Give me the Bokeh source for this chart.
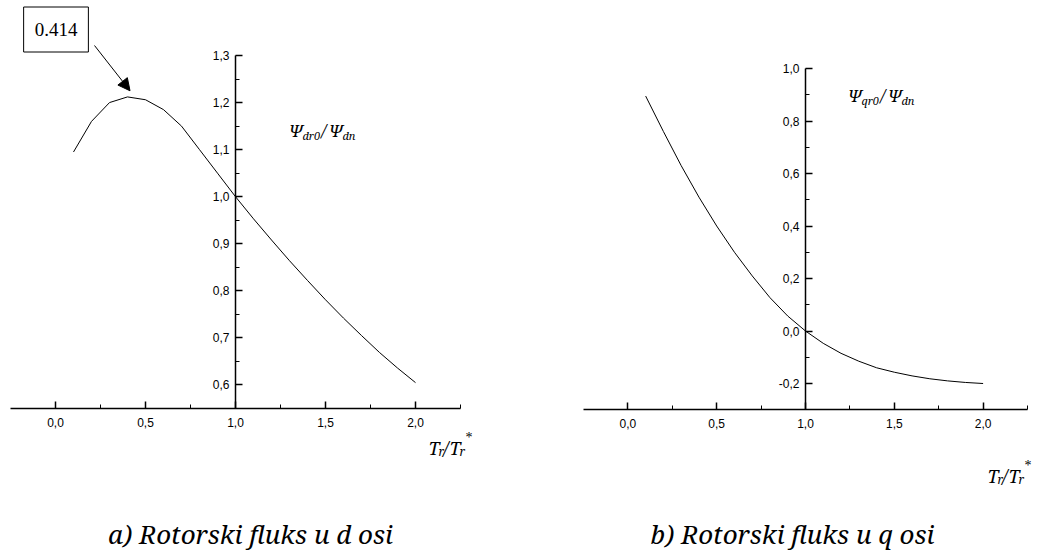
from bokeh.plotting import figure
from bokeh.models import LinearAxis, FixedTicker, CustomJSTickFormatter, Label, Arrow, NormalHead, Range1d
from bokeh.layouts import row
from bokeh.embed import file_html
from bokeh.resources import INLINE

# ---------------- data ----------------
x_d = [0.1, 0.2, 0.3, 0.4, 0.5, 0.6, 0.7, 0.8, 0.9, 1.0,
       1.1, 1.2, 1.3, 1.4, 1.5, 1.6, 1.7, 1.8, 1.9, 2.0]
psi_dr0 = [1.095, 1.160, 1.200, 1.212, 1.206, 1.185, 1.150, 1.100, 1.050, 1.000,
           0.953, 0.908, 0.864, 0.822, 0.781, 0.742, 0.705, 0.669, 0.636, 0.605]
x_q = [0.1, 0.2, 0.3, 0.4, 0.5, 0.6, 0.7, 0.8, 0.9, 1.0,
       1.1, 1.2, 1.3, 1.4, 1.5, 1.6, 1.7, 1.8, 1.9, 2.0]
psi_qr0 = [0.895, 0.760, 0.630, 0.510, 0.400, 0.300, 0.210, 0.127, 0.057, 0.000,
           -0.047, -0.085, -0.115, -0.140, -0.157, -0.171, -0.182, -0.190, -0.196, -0.200]

x_major = [0.0, 0.5, 1.0, 1.5, 2.0]
x_minor = [0.25, 0.75, 1.25, 1.75, 2.25]
yd_major = [0.6, 0.7, 0.8, 0.9, 1.0, 1.1, 1.2, 1.3]
yd_minor = [0.65, 0.75, 0.85, 0.95, 1.05, 1.15, 1.25]
yq_major = [-0.2, 0.0, 0.2, 0.4, 0.6, 0.8, 1.0]
yq_minor = [-0.1, 0.1, 0.3, 0.5, 0.7, 0.9]

peak_x = 0.414
peak_text = "0.414"
caption_a = "a) Rotorski fluks u d osi"
caption_b = "b) Rotorski fluks u q osi"

SERIF = "Liberation Serif"
SERIF_IT = "Noto Serif"
SANS = "Liberation Sans"

H = 550


def make_map(x0, px0, x1, px1, y0, py0, y1, py1, FL, FR, FT, FB):
    sx = (px1 - px0) / (x1 - x0)
    sy = (py1 - py0) / (y1 - y0)
    xr = Range1d(x0 - (px0 - FL) / sx, x0 + (FR - px0) / sx)
    yr = Range1d(y0 + (FB - py0) / sy, y0 + (FT - py0) / sy)

    def to_data(px, py):
        return x0 + (px - px0) / sx, y0 + (py - py0) / sy
    return xr, yr, to_data


fmt = CustomJSTickFormatter(code="return tick.toFixed(1).replace('.', ',');")


def build(FL, FR, xmap, ymap, xaxis_y, ybounds, ymaj, ymin):
    xr, yr, conv = make_map(*xmap, *ymap, FL, FR, 0, H)
    p = figure(width=FR - FL, height=H, x_range=xr, y_range=yr,
               x_axis_type=None, y_axis_type=None,
               output_backend="svg", toolbar_location=None, min_border=0)
    p.outline_line_color = None
    p.background_fill_color = "white"
    p.border_fill_color = "white"

    xa = LinearAxis(fixed_location=xaxis_y, bounds=(-0.25, 2.25),
                    ticker=FixedTicker(ticks=x_major, minor_ticks=x_minor),
                    formatter=fmt)
    ya = LinearAxis(fixed_location=1.0, bounds=ybounds,
                    ticker=FixedTicker(ticks=ymaj, minor_ticks=ymin),
                    formatter=fmt)
    for a in (xa, ya):
        a.axis_line_color = "black"
        a.axis_line_width = 1.5
        a.major_tick_line_color = "black"
        a.major_tick_line_width = 1.5
        a.minor_tick_line_color = "black"
        a.minor_tick_line_width = 1
        a.major_tick_in = 7
        a.major_tick_out = 0
        a.minor_tick_in = 4
        a.minor_tick_out = 0
        a.major_label_text_font = SANS
        a.major_label_text_font_size = "12px"
        a.major_label_text_color = "black"
    xa.major_label_standoff = 9
    ya.major_label_standoff = 6
    p.add_layout(xa, "below")
    p.add_layout(ya, "left")
    return p, conv


def add_text(p, conv, px, py, text, size, style="italic", font=SERIF_IT, align="left", baseline="alphabetic"):
    x, y = conv(px, py)
    p.add_layout(Label(x=x, y=y, text=text, text_font=font, text_font_style=style,
                       text_font_size=f"{size}px", text_color="black",
                       text_align=align, text_baseline=baseline))


def psi_label(p, conv, x0, base, sub):
    add_text(p, conv, x0, base, "\u03A8", 17)
    add_text(p, conv, x0 + 14, base + 5, sub, 11)
    add_text(p, conv, x0 + 33, base, "/", 17)
    add_text(p, conv, x0 + 40, base, "\u03A8", 17)
    add_text(p, conv, x0 + 54, base + 5, "dn", 11)


def t_label(p, conv, x0, base):
    add_text(p, conv, x0, base, "T", 18)
    add_text(p, conv, x0 + 10, base + 4, "r", 12)
    add_text(p, conv, x0 + 15, base, "/", 18)
    add_text(p, conv, x0 + 21, base, "T", 18)
    add_text(p, conv, x0 + 31, base + 4, "r", 12)
    add_text(p, conv, x0 + 37, base - 10, "*", 14, style="normal", font=SERIF)


# ---------------- left figure ----------------
p1, c1 = build(0, 520, (-0.25, 10, 2.25, 460), (0.55, 408, 1.3, 55),
               0.55, (0.55, 1.3), yd_major, yd_minor)
p1.line(x_d, psi_dr0, line_color="black", line_width=1)

bx, by = c1(55.5, 29)
p1.add_layout(Label(x=bx, y=by, text=peak_text, text_font=SERIF, text_font_size="19px",
                    text_align="center", text_baseline="middle", text_color="black",
                    border_line_color="black", border_line_width=1,
                    background_fill_color="white",
                    padding=dict(left=11, right=11, top=16, bottom=16)))
peak_y = psi_dr0[x_d.index(0.4)]
sx0, sy0 = c1(94, 45)
p1.add_layout(Arrow(end=NormalHead(size=12, fill_color="black", line_color="black"),
                    x_start=sx0, y_start=sy0, x_end=peak_x, y_end=peak_y + 0.013,
                    line_color="black", line_width=1))

psi_label(p1, c1, 288, 130, "dr0")
t_label(p1, c1, 428, 447)
add_text(p1, c1, 250, 533, caption_a, 26, align="center")

# ---------------- right figure ----------------
p2, c2 = build(520, 1039, (-0.25, 583, 2.25, 1027), (-0.2, 383, 1.0, 68),
               -0.3, (-0.3, 1.0), yq_major, yq_minor)
p2.line(x_q, psi_qr0, line_color="black", line_width=1)

psi_label(p2, c2, 847, 95, "qr0")
t_label(p2, c2, 987, 475)
add_text(p2, c2, 792, 533, caption_b, 26, align="center")

layout = row(p1, p2)
open("out.html", "w").write(file_html(layout, INLINE))
